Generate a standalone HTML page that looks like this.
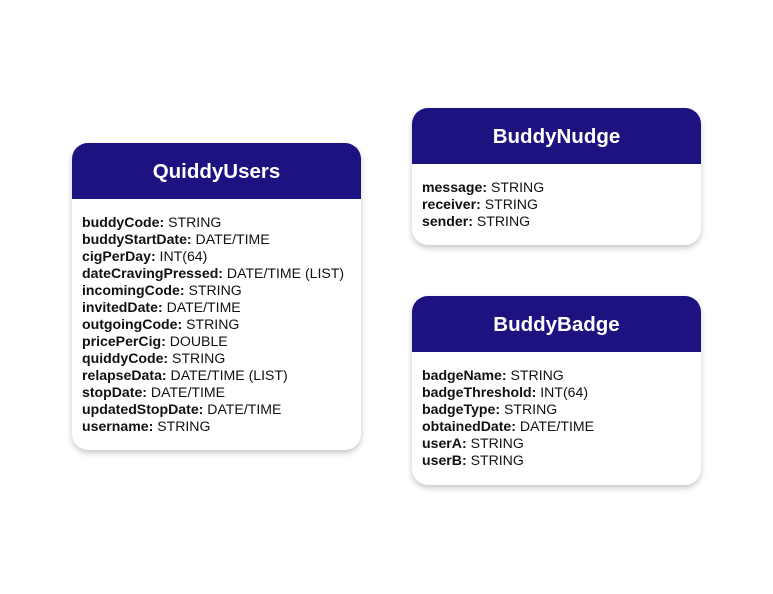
<!DOCTYPE html>
<html><head><meta charset="utf-8"><style>
html,body{margin:0;padding:0;background:#fff;width:773px;height:594px;overflow:hidden;font-family:"Liberation Sans",sans-serif;}
.card{position:absolute;background:#fff;border-radius:16px;box-shadow:0 3px 6px rgba(0,0,0,0.22);overflow:hidden;}
.hd{background:#1c1280;color:#fff;font-weight:bold;font-size:20.5px;text-align:center;height:56px;line-height:58px;}
.bd{padding:15px 10px 0 10px;font-size:14.1px;line-height:17px;color:#111;white-space:nowrap;}
.bd b{font-weight:bold;}
</style></head><body>
<div class="card" style="left:72px;top:143px;width:289px;height:307px;">
<div class="hd">QuiddyUsers</div>
<div class="bd">
<b>buddyCode:</b> STRING<br>
<b>buddyStartDate:</b> DATE/TIME<br>
<b>cigPerDay:</b> INT(64)<br>
<b>dateCravingPressed:</b> DATE/TIME (LIST)<br>
<b>incomingCode:</b> STRING<br>
<b>invitedDate:</b> DATE/TIME<br>
<b>outgoingCode:</b> STRING<br>
<b>pricePerCig:</b> DOUBLE<br>
<b>quiddyCode:</b> STRING<br>
<b>relapseData:</b> DATE/TIME (LIST)<br>
<b>stopDate:</b> DATE/TIME<br>
<b>updatedStopDate:</b> DATE/TIME<br>
<b>username:</b> STRING
</div></div>
<div class="card" style="left:412px;top:108px;width:289px;height:137px;">
<div class="hd">BuddyNudge</div>
<div class="bd">
<b>message:</b> STRING<br>
<b>receiver:</b> STRING<br>
<b>sender:</b> STRING
</div></div>
<div class="card" style="left:412px;top:296px;width:289px;height:189px;">
<div class="hd">BuddyBadge</div>
<div class="bd">
<b>badgeName:</b> STRING<br>
<b>badgeThreshold:</b> INT(64)<br>
<b>badgeType:</b> STRING<br>
<b>obtainedDate:</b> DATE/TIME<br>
<b>userA:</b> STRING<br>
<b>userB:</b> STRING
</div></div>
</body></html>
